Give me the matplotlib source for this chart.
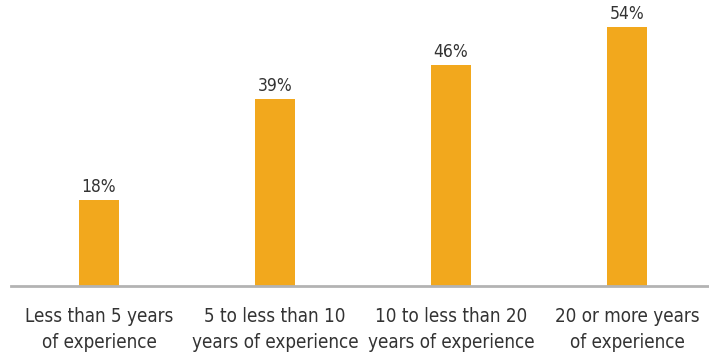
import matplotlib
matplotlib.use("Agg")
import matplotlib.pyplot as plt

categories = ["Less than 5 years\nof experience",
              "5 to less than 10\nyears of experience",
              "10 to less than 20\nyears of experience",
              "20 or more years\nof experience"]
values = [18, 39, 46, 54]

plt.rcParams['font.family'] = ['DejaVu Sans']
plt.rcParams['font.stretch'] = 'condensed'

fig = plt.figure(figsize=(7.09, 3.59), dpi=100)
ax = fig.add_axes([11 / 709, 73 / 359, 698 / 709, 286 / 359])

x = range(len(values))
bars = ax.bar(x, values, width=0.227, color="#F2A81D", zorder=2)

for xi, v in zip(x, values):
    ax.text(xi, v + 0.8, f"{v}%", ha="center", va="bottom",
            fontsize=12.5, color="#333333")

ax.set_xlim(-0.5, 3.466)
ax.set_ylim(0, 59.6)
ax.set_xticks(list(x))
ax.set_xticklabels(categories, fontsize=13.5, color="#333333", linespacing=1.5)
ax.tick_params(axis="x", length=0, pad=15)
ax.set_yticks([])

for side in ["top", "right", "left"]:
    ax.spines[side].set_visible(False)
ax.spines["bottom"].set_color("#B3B3B3")
ax.spines["bottom"].set_linewidth(2)

fig.savefig("out.png", dpi=100)
